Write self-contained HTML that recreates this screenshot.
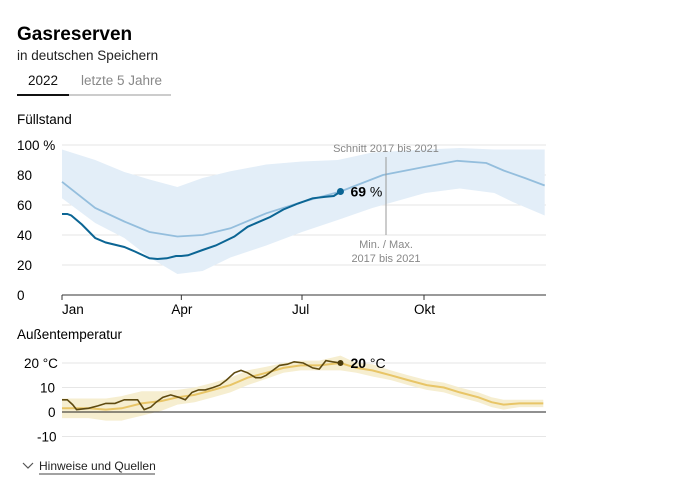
<!DOCTYPE html>
<html><head><meta charset="utf-8">
<style>
body{margin:0;background:#fff;width:678px;height:484px;overflow:hidden;font-family:"Liberation Sans",sans-serif;color:#111}
svg{position:absolute;left:0;top:0}
text{font-family:"Liberation Sans",sans-serif}
</style></head>
<body>
<svg width="678" height="484">
<text x="17" y="40" font-size="19" font-weight="bold" font-family="Liberation Sans Narrow, Liberation Sans, sans-serif">Gasreserven</text>
<text x="17" y="60" font-size="13.5" fill="#222">in deutschen Speichern</text>
<text x="28" y="85" font-size="13.5" fill="#111">2022</text>
<text x="81" y="85" font-size="13.5" fill="#888">letzte 5 Jahre</text>
<line x1="17" y1="95" x2="171" y2="95" stroke="#999" stroke-width="1"/>
<line x1="17" y1="95" x2="69" y2="95" stroke="#111" stroke-width="2"/>
<text x="17" y="124" font-size="13.5">Füllstand</text>
<g id="gas"></g>
<text x="17" y="339" font-size="13.5">Außentemperatur</text>
<g id="temp"></g>
<path d="M23 463 L28 468 L33 463" fill="none" stroke="#555" stroke-width="1.2"/>
<text x="39" y="470" font-size="12" fill="#222">Hinweise und Quellen</text>
<line x1="39" y1="474" x2="155" y2="474" stroke="#444" stroke-width="1"/>
</svg>
<script>
// Gas storage data (day of year, %)
const gasDays=[0,4,7,15,25,33,47,55,66,72,79,86,90,95,106,116,130,140,157,167,178,189,199,205,210];
const gas2022=[54,54,53,47,38,35,32,29,24.5,24,24.5,26,26,26.5,30,33,39,45.5,52,57,61,64.5,65.5,66,69];
const avgDays=[0,25,47,66,87,106,127,154,181,210,242,274,298,320,333,349,364];
const gasAvg=[75.5,58,49,42,39,40,44.5,54.5,62,69,80,85.5,89.5,88,83,78,73];
const bandDays=[0,25,47,66,87,106,127,154,181,208,234,274,300,326,340,364];
const gasMax=[97,90,82,77,72,78,82.5,87,89,90,95,97,98,97,97,97];
const gasMin=[64.5,48,38,25,14,16,25,33,42,50,58,68,71,68,62,53];
const gasTicks=[0,20,40,60,80,100];
const monthLabels=["Jan","Apr","Jul","Okt"];
const monthDays=[0,90,181,273];
// Temperature data (day, °C)
const tDays=[0,4,8,11,20,27,33,40,47,52,57,62,67,71,76,82,88,93,98,103,108,114,119,124,130,135,140,146,150,154,159,164,170,175,182,189,194,199,204,210];
const temp2022=[5,5,3,1,1.5,2.5,3.5,3.5,5,5,5,1,2,4,6,7,6,5,8,9,9,10,11,13,16,17,16,14,14,15,17,19,19.5,20.5,20,18,17.5,21,20.5,20];
const tAvgDays=[0,20,33,45,60,75,87,100,114,127,140,154,167,180,194,210,222,234,248,261,275,288,300,314,324,333,345,363];
const tempAvg=[1.5,1.5,1,1.5,3.5,4.5,6,7,9,11,14,16,18,19,19,20,18,17,15,13,11,10,8,6,4,3,3.5,3.5];
const tempSpread=[4,4,4.5,5,5,4,3,3,3,3,3,2.5,2,2,2,3,2,2.5,2,2,2,2,2,2,2,2,1.5,1.5];
const tempTicks=[-10,0,10,20];

const NS="http://www.w3.org/2000/svg";
const X0=62,X1=546;
const xs=d=>X0+d*(X1-X0)/365;
const gy=v=>295-v*1.5;
const ty=v=>412-v*2.45;
function el(tag,attrs,parent){const e=document.createElementNS(NS,tag);for(const k in attrs)e.setAttribute(k,attrs[k]);parent.appendChild(e);return e;}
function line(days,vals,yf){return days.map((d,i)=>(i?"L":"M")+xs(d).toFixed(1)+" "+yf(vals[i]).toFixed(1)).join(" ");}
function band(days,hi,lo,yf){let p=days.map((d,i)=>(i?"L":"M")+xs(d).toFixed(1)+" "+yf(hi[i]).toFixed(1)).join(" ");for(let i=days.length-1;i>=0;i--)p+=" L"+xs(days[i]).toFixed(1)+" "+yf(lo[i]).toFixed(1);return p+"Z";}

const g=document.getElementById('gas');
gasTicks.forEach(t=>{
  const l=el('line',{x1:X0,x2:X1,y1:gy(t),y2:gy(t),stroke:'#e6e6e6'},g);
  
  
  const tx=el('text',{x:17,y:gy(t)+5,'font-size':13.5},g);tx.textContent=t===100?'100 %':t;
  
  
});
const b=el('path',{d:band(bandDays,gasMax,gasMin,gy),fill:'#e3eef8'},g);


const ax=el('line',{x1:X0,x2:X1,y1:295,y2:295,stroke:'#333'},g);


monthDays.forEach((d,i)=>{
  const tk=el('line',{x1:xs(d),x2:xs(d),y1:295,y2:300,stroke:'#333'},g);
  
  
  const tx=el('text',{x:xs(d)+(i?-10:0),y:314,'font-size':13.5},g);tx.textContent=monthLabels[i];
  
  
});
const al=el('path',{d:line(avgDays,gasAvg,gy),fill:'none',stroke:'#94bedd','stroke-width':1.8},g);


const ml=el('path',{d:line(gasDays,gas2022,gy),fill:'none',stroke:'#0b6594','stroke-width':2},g);


const ld=gasDays[gasDays.length-1],lv=gas2022[gas2022.length-1];
const dot=el('circle',{cx:xs(ld),cy:gy(lv),r:3.5,fill:'#0b6594'},g);


const lt=el('text',{x:xs(ld)+10,y:gy(lv)+5,'font-size':14},g);
lt.innerHTML='<tspan font-weight="bold">'+Math.round(lv)+'</tspan> %';


const an=el('line',{x1:386,x2:386,y1:157,y2:235,stroke:'#999'},g);


[['Schnitt 2017 bis 2021',152,'annotation-average'],['Min. / Max.',248,'annotation-min-max'],['2017 bis 2021',262,'annotation-min-max-years']].forEach(a=>{
  const tx=el('text',{x:386,y:a[1],'font-size':11,fill:'#888','text-anchor':'middle'},g);tx.textContent=a[0];
  
  
});

const t=document.getElementById('temp');
tempTicks.forEach(v=>{
  const l=el('line',{x1:X0,x2:X1,y1:ty(v),y2:ty(v),stroke:v===0?'#222':'#e6e6e6'},t);
  
  
  const tx=el('text',{x:v===20?24:(v<0?37:(v===0?48:40)),y:ty(v)+5,'font-size':13.5},t);tx.textContent=v===20?'20 °C':v;
  
  
});
const hi=tempAvg.map((v,i)=>v+tempSpread[i]),lo=tempAvg.map((v,i)=>v-tempSpread[i]);
const tb=el('path',{d:band(tAvgDays,hi,lo,ty),fill:'#f5ebc8',opacity:0.85},t);


const z=el('line',{x1:X0,x2:X1,y1:ty(0),y2:ty(0),stroke:'#222'},t);


const ta=el('path',{d:line(tAvgDays,tempAvg,ty),fill:'none',stroke:'#e8c567','stroke-width':2},t);


const tl=el('path',{d:line(tDays,temp2022,ty),fill:'none',stroke:'#5e4a10','stroke-width':1.6},t);


const td=tDays[tDays.length-1],tv=temp2022[temp2022.length-1];
const tdot=el('circle',{cx:xs(td),cy:ty(tv),r:3,fill:'#4a3a0c'},t);


const tt=el('text',{x:xs(td)+10,y:ty(tv)+5,'font-size':14},t);
tt.innerHTML='<tspan font-weight="bold">'+Math.round(tv)+'</tspan> °C';


</script>
</body></html>
